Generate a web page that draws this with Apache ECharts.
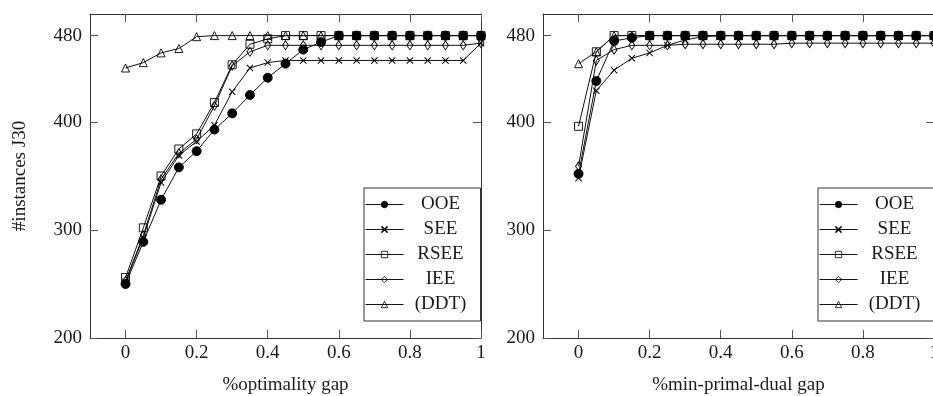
<!DOCTYPE html>
<html>
<head>
<meta charset="utf-8">
<title>#instances J30</title>
<script src="https://cdn.jsdelivr.net/npm/echarts@6/dist/echarts.min.js"></script>
<style>
    html, body { margin: 0; padding: 0; background: #fff; }
    #chart { width: 933px; height: 396px; }
</style>
</head>
<body>
<div id="chart"></div>
<script>
// x positions shared by both panels
var gaps = [0, 0.05, 0.1, 0.15, 0.2, 0.25, 0.3, 0.35, 0.4, 0.45, 0.5,
            0.55, 0.6, 0.65, 0.7, 0.75, 0.8, 0.85, 0.9, 0.95, 1];
var xTicks = [0, 0.2, 0.4, 0.6, 0.8, 1];
var yTicks = [200, 300, 400, 480];
var names = ['OOE', 'SEE', 'RSEE', 'IEE', '(DDT)'];

// left panel: %optimality gap
var optOOE  = [250, 289, 328, 358, 373, 393, 408, 425, 441, 454, 467, 474, 480, 480, 480, 480, 480, 480, 480, 480, 480];
var optSEE  = [252, 293, 344, 369, 382, 397, 428, 450, 455, 457, 457, 457, 457, 457, 457, 457, 457, 457, 457, 457, 473];
var optRSEE = [256, 302, 350, 375, 389, 418, 453, 472, 477, 480, 480, 480, 480, 480, 480, 480, 480, 480, 480, 480, 480];
var optIEE  = [253, 295, 347, 371, 384, 415, 452, 465, 471, 471, 471, 471, 471, 471, 471, 471, 471, 471, 471, 471, 473];
var optDDT  = [450, 455, 464, 468, 479, 480, 480, 480, 480, 480, 480, 480, 480, 480, 480, 480, 480, 480, 480, 480, 480];

// right panel: %min-primal-dual gap
var pdOOE  = [352, 438, 475, 478, 480, 480, 480, 480, 480, 480, 480, 480, 480, 480, 480, 480, 480, 480, 480, 480, 480];
var pdSEE  = [348, 429, 448, 459, 464, 471, 476, 479, 480, 480, 480, 480, 480, 480, 480, 480, 480, 480, 480, 480, 480];
var pdRSEE = [396, 465, 480, 480, 480, 480, 480, 480, 480, 480, 480, 480, 480, 480, 480, 480, 480, 480, 480, 480, 480];
var pdIEE  = [359, 457, 467, 471, 471, 471, 472, 472, 472, 472, 472, 472, 473, 473, 473, 473, 473, 473, 473, 473, 473];
var pdDDT  = [454, 465, 480, 480, 480, 480, 480, 480, 480, 480, 480, 480, 480, 480, 480, 480, 480, 480, 480, 480, 480];

var FONT = '"Liberation Serif", "DejaVu Serif", serif';
var INK = '#1a1a1a';

var CROSS = 'path://M0,1L1,0L5,4L9,0L10,1L6,5L10,9L9,10L5,6L1,10L0,9L4,5Z';
var marks = [
    {symbol: 'circle', size: 9, fill: '#000'},
    {symbol: CROSS, size: 7, fill: '#000'},
    {symbol: 'rect', size: 8, fill: 'transparent'},
    {symbol: 'diamond', size: [6, 9], fill: 'transparent'},
    {symbol: 'triangle', size: 8, fill: 'transparent'}
];

function pairs(ys) {
    var out = [];
    for (var i = 0; i < gaps.length; i++) {
        out.push([gaps[i], ys[i]]);
    }
    return out;
}

function makeSeries(lists, axisIdx) {
    var list = [];
    for (var k = 0; k < lists.length; k++) {
        var m = marks[k];
        list.push({
            name: names[k],
            type: 'line',
            xAxisIndex: axisIdx,
            yAxisIndex: axisIdx,
            data: pairs(lists[k]),
            symbol: m.symbol,
            symbolSize: m.size,
            showAllSymbol: true,
            clip: false,
            lineStyle: {color: '#111', width: 1},
            itemStyle: {
                color: m.fill,
                borderColor: '#000',
                borderWidth: k === 1 ? 0 : 0.9
            },
            emphasis: {disabled: true}
        });
    }
    return list;
}

function xAxes(gridIdx, title) {
    var base = {
        type: 'value', gridIndex: gridIdx, min: -0.1, max: 1,
        splitLine: {show: false},
        axisLine: {show: true, onZero: false, lineStyle: {color: '#333', width: 1}},
        axisTick: {show: true, inside: true, length: 8, customValues: xTicks,
                   lineStyle: {color: '#555', width: 1}}
    };
    var bottom = echarts.util.merge({
        position: 'bottom',
        name: title, nameLocation: 'middle', nameGap: 38,
        nameTextStyle: {fontFamily: FONT, fontSize: 19, color: INK},
        axisLabel: {show: true, customValues: xTicks, margin: 6,
                    fontFamily: FONT, fontSize: 19, color: INK,
                    formatter: function (v) { return String(v); }}
    }, base, true);
    var top = echarts.util.merge({position: 'top', axisLabel: {show: false}}, base, true);
    return [bottom, top];
}

function yAxes(gridIdx, title) {
    var base = {
        type: 'value', gridIndex: gridIdx, min: 200, max: 500,
        splitLine: {show: false},
        axisLine: {show: true, onZero: false, lineStyle: {color: '#333', width: 1}},
        axisTick: {show: true, inside: true, length: 8, customValues: yTicks,
                   lineStyle: {color: '#555', width: 1}}
    };
    var left = echarts.util.merge({
        position: 'left',
        name: title || '', nameLocation: 'middle', nameGap: 60, nameRotate: 90,
        nameTextStyle: {fontFamily: FONT, fontSize: 19, color: INK},
        axisLabel: {show: true, customValues: yTicks, margin: 8,
                    fontFamily: FONT, fontSize: 19, color: INK}
    }, base, true);
    var right = echarts.util.merge({position: 'right', axisLabel: {show: false}}, base, true);
    return [left, right];
}

function legendAt(left) {
    return {
        show: true,
        orient: 'vertical',
        left: left, top: 188,
        data: names,
        itemWidth: 38, itemHeight: 8, itemGap: 6,
        padding: [7, 8, 7, 1],
        backgroundColor: '#fff',
        borderColor: '#333', borderWidth: 1, borderRadius: 0,
        selectedMode: false,
        itemStyle: {borderWidth: 0.8},
        lineStyle: {width: 1},
        formatter: function (name) { return '{t|' + name + '}'; },
        textStyle: {
            fontFamily: FONT, fontSize: 19, color: INK, lineHeight: 19,
            rich: {t: {width: 64, align: 'center', fontFamily: FONT, fontSize: 19, color: INK, lineHeight: 19}}
        }
    };
}

var chart = echarts.init(document.getElementById('chart'), null, {renderer: 'canvas'});

var xs = xAxes(0, '%optimality gap').concat(xAxes(1, '%min-primal-dual gap'));
var ys = yAxes(0, '#instances J30').concat(yAxes(1, ''));

var series = makeSeries([optOOE, optSEE, optRSEE, optIEE, optDDT], 0)
    .concat(makeSeries([pdOOE, pdSEE, pdRSEE, pdIEE, pdDDT], 2));

var option = {
    animation: false,
    backgroundColor: '#fff',
    grid: [
        {left: 90, top: 14, width: 391, height: 324, outerBoundsMode: 'none'},
        {left: 543, top: 14, width: 391, height: 324, outerBoundsMode: 'none'}
    ],
    legend: [legendAt(364), legendAt(818)],
    xAxis: xs,
    yAxis: ys,
    series: series
};
chart.setOption(option);
</script>
</body>
</html>
